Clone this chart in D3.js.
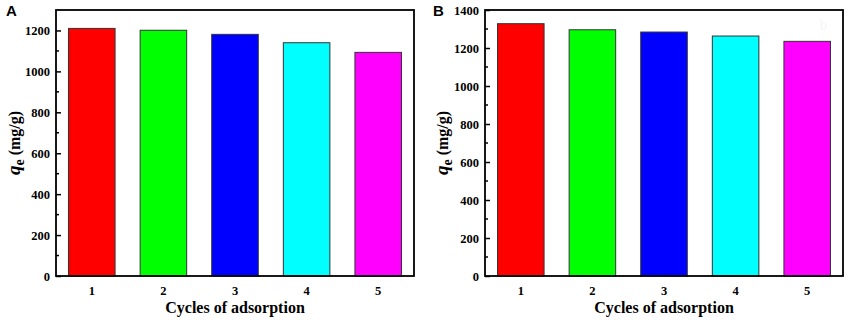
<!DOCTYPE html>
<html>
<head>
<meta charset="utf-8">
<script src="https://cdn.jsdelivr.net/npm/d3@7/dist/d3.min.js"></script>
<style>
  body { margin: 0; background: #fff; }
  svg { display: block; }
  text { font-family: "Liberation Serif", "Times New Roman", serif; font-weight: bold; }
</style>
</head>
<body>
<svg id="chart" width="850" height="323"></svg>
<script>
// ---- data ----
const cycles = ["1", "2", "3", "4", "5"];
const colors = ["#ff0000", "#00ff00", "#0000ff", "#00ffff", "#ff00ff"];
const valuesA = [1210, 1201, 1181, 1140, 1093];
const valuesB = [1328, 1296, 1284, 1263, 1235];
const ticksA = [0, 200, 400, 600, 800, 1000, 1200];
const ticksB = [0, 200, 400, 600, 800, 1000, 1200, 1400];
const panelLabels = ["A", "B"];
const xTitle = "Cycles of adsorption";

const svg = d3.select("#chart");

function drawPanel(cfg) {
  const { left, right, top, bottom, values, ticks, yMax, label, labelX, yTitleX } = cfg;
  const g = svg.append("g");

  const x = d3.scaleBand().domain(cycles).range([left, right])
    .paddingInner(0.35).paddingOuter(0.175);
  const y = d3.scaleLinear().domain([0, yMax]).range([bottom, top]);

  // bars
  g.selectAll("rect.bar").data(values).join("rect")
    .attr("class", "bar")
    .attr("x", (d, i) => x(cycles[i]))
    .attr("width", x.bandwidth())
    .attr("y", d => y(d))
    .attr("height", d => y(0) - y(d))
    .attr("fill", (d, i) => colors[i])
    .attr("stroke", "#333")
    .attr("stroke-width", 1);

  // minor ticks (inward)
  const minor = d3.range(100, yMax, 200);
  g.selectAll("line.minor").data(minor).join("line")
    .attr("x1", left).attr("x2", left + 3)
    .attr("y1", d => y(d)).attr("y2", d => y(d))
    .attr("stroke", "#000").attr("stroke-width", 1.5);

  // y axis with inward ticks
  const yAxis = d3.axisLeft(y).tickValues(ticks).tickSize(-5).tickPadding(6)
    .tickFormat(d3.format("d"));
  const ya = g.append("g").attr("transform", `translate(${left},0)`).call(yAxis)
    .attr("font-family", "Liberation Serif").attr("font-size", 12.5);
  ya.select(".domain").remove();
  ya.selectAll(".tick line").attr("stroke", "#000").attr("stroke-width", 1.5);
  ya.selectAll(".tick text").attr("fill", "#000")
    .style("font-family", "'Liberation Serif', serif").style("font-weight", "bold");

  // x axis labels
  const xAxis = d3.axisBottom(x).tickSize(0).tickPadding(10);
  const xa = g.append("g").attr("transform", `translate(0,${bottom})`).call(xAxis)
    .attr("font-family", "Liberation Serif").attr("font-size", 12.5);
  xa.select(".domain").remove();
  xa.selectAll(".tick text").attr("fill", "#000")
    .style("font-family", "'Liberation Serif', serif").style("font-weight", "bold");

  // frame
  g.append("rect")
    .attr("x", left).attr("y", top)
    .attr("width", right - left).attr("height", bottom - top)
    .attr("fill", "none").attr("stroke", "#000").attr("stroke-width", 1.8);

  // x title
  g.append("text")
    .attr("x", (left + right) / 2).attr("y", bottom + 37)
    .attr("text-anchor", "middle").attr("font-size", 16).attr("fill", "#000")
    .text(xTitle);

  // y title
  const yt = g.append("text")
    .attr("transform", `translate(${yTitleX},${(top + bottom) / 2}) rotate(-90)`)
    .attr("text-anchor", "middle").attr("font-size", 16).attr("fill", "#000");
  yt.append("tspan").attr("font-style", "italic").attr("font-size", 19).text("q");
  yt.append("tspan").attr("font-size", 14).attr("dy", 4).text("e");
  yt.append("tspan").attr("dy", -4).text(" (mg/g)");

  // panel label
  g.append("text")
    .attr("x", labelX).attr("y", top + 6)
    .attr("font-size", 15).attr("fill", "#000")
    .style("font-family", "'Liberation Sans', Arial, sans-serif")
    .text(label);
  return g;
}

drawPanel({ left: 56, right: 414, top: 10, bottom: 276, values: valuesA, ticks: ticksA,
            yMax: 1300, label: panelLabels[0], labelX: 6, yTitleX: 20 });
const gB = drawPanel({ left: 485, right: 843, top: 10, bottom: 276, values: valuesB, ticks: ticksB,
            yMax: 1400, label: panelLabels[1], labelX: 433, yTitleX: 448 });
// faint residual label
gB.append("text").attr("x", 820).attr("y", 30).attr("font-size", 14)
  .attr("fill", "#f5f5f5").style("font-weight", "normal").text("b");
</script>
</body>
</html>
